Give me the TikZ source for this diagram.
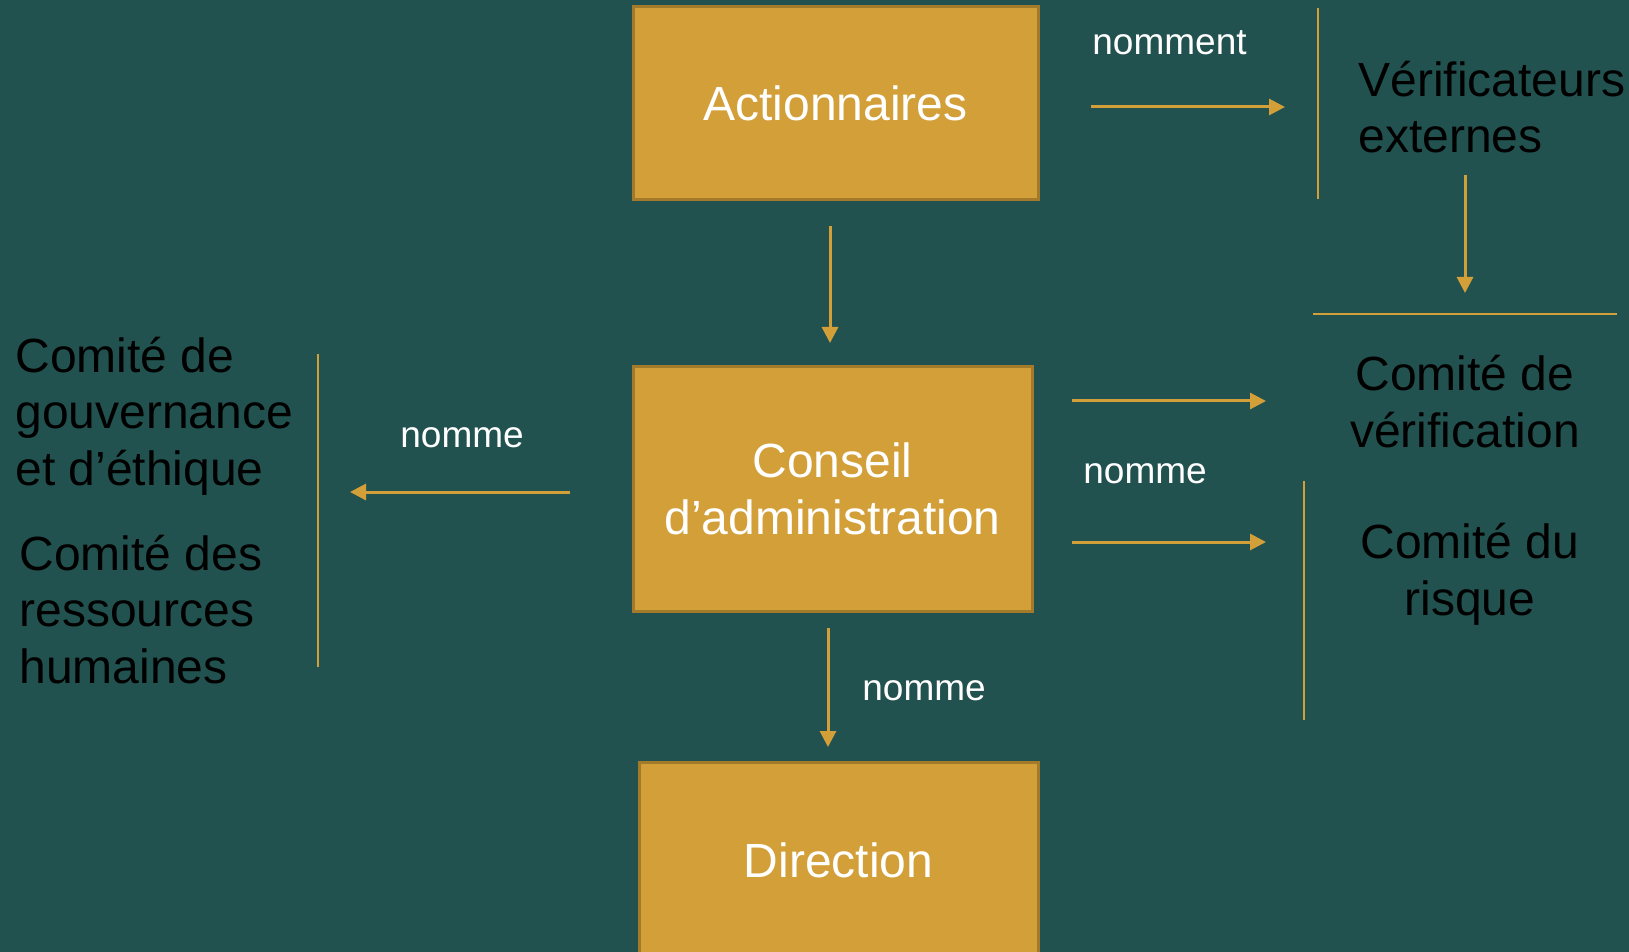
\documentclass[tikz,border=0pt]{standalone}
\usepackage{fontspec}
\setmainfont{Liberation Sans}
\usetikzlibrary{arrows.meta}
\definecolor{bgteal}{HTML}{22524F}
\definecolor{gold}{HTML}{D29F38}
\definecolor{golddark}{HTML}{A37A2A}

\begin{document}
\begin{tikzpicture}[x=0.5pt,y=-0.5pt,
  unit/.style = {rectangle,fill=gold,draw=golddark,line width=1.5pt,text=white,align=center,font=\fontsize{24}{28.25}\selectfont,inner sep=0pt,outer sep=0pt},
  comtxt/.style = {inner sep=0pt,text=black,font=\fontsize{24}{28.25}\selectfont},
  namelbl/.style = {inner sep=0pt,text=white,font=\fontsize{18.5}{22}\selectfont,anchor=base west},
  flow/.style = {draw=gold,line width=1.5pt,-{Triangle[length=8pt,width=8pt]}},
  rule/.style = {draw=gold,line width=1pt}]
\clip (0,0) rectangle (1629,952);
\fill[bgteal] (0,0) rectangle (1629,952);
% boxes
\node[unit,minimum width=202.5pt,minimum height=96.5pt] (act) at (835.5,103.5) {Actionnaires};
\node[unit,minimum width=199.5pt,minimum height=122pt] (ca) at (832.5,489) {Conseil\\d’administration};
\node[unit,minimum width=199.5pt,minimum height=98pt] (dir) at (838.5,860) {Direction};
% committees (base = last line)
\node[comtxt,anchor=base west,align=left] (ver) at (1358,153) {Vérificateurs\\externes};
\node[comtxt,anchor=base west,align=left] (gov) at (15,485) {Comité de\\gouvernance\\et d’éthique};
\node[comtxt,anchor=base west,align=left] (rh) at (19,683) {Comité des\\ressources\\humaines};
\node[comtxt,anchor=base,align=center] (audit) at (1465,447) {Comité de\\vérification};
\node[comtxt,anchor=base,align=center] (risk) at (1470,615) {Comité du\\risque};
% labels
\node[namelbl] (lbltop) at (1092,55) {nomment};
\node[namelbl] (lblleft) at (400,447) {nomme};
\node[namelbl] (lblright) at (1083,483) {nomme};
\node[namelbl] (lbldown) at (862,700) {nomme};
% arrow ends
\coordinate (a1) at (1091,107);  \coordinate (b1) at (1285,107);
\coordinate (a2) at (1465,175);  \coordinate (b2) at (1465,293);
\coordinate (a3) at (830,226);   \coordinate (b3) at (830,343);
\coordinate (a4) at (570,492);   \coordinate (b4) at (350,492);
\coordinate (a5) at (1072,401);  \coordinate (b5) at (1266,401);
\coordinate (a6) at (1072,542);  \coordinate (b6) at (1266,542);
\coordinate (a7) at (828,628);   \coordinate (b7) at (828,747);
\foreach \n in {1,...,7}
    \draw[flow] (a\n) -- (b\n);
% separators
\draw[rule] (1318,8) -- (1318,199);
\draw[rule] (1313,314) -- (1617,314);
\draw[rule] (1304,481) -- (1304,720);
\draw[rule] (318,354) -- (318,667);
\end{tikzpicture}
\end{document}
